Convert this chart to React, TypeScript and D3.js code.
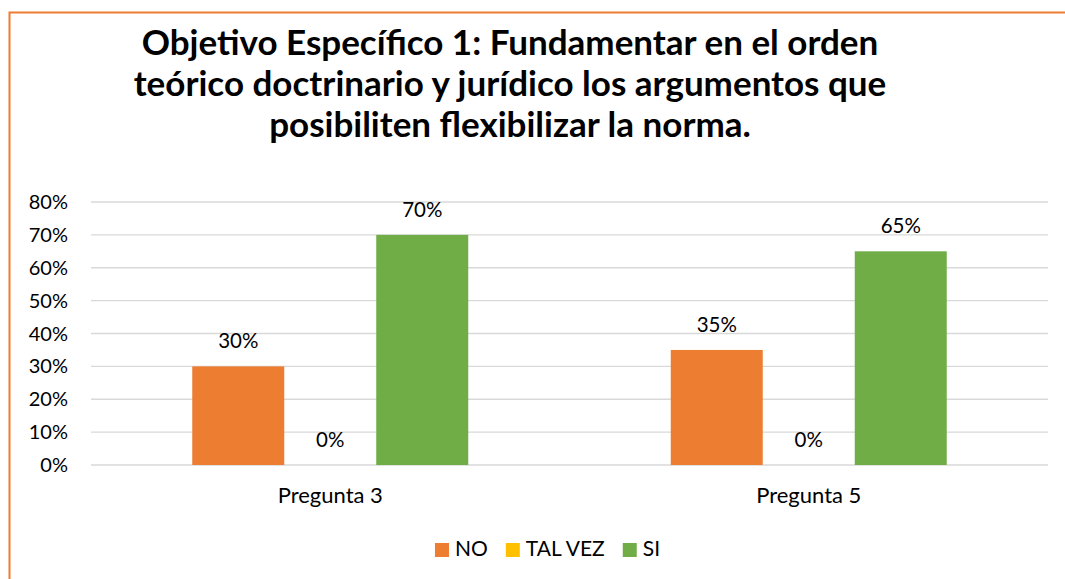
import React, { useRef, useEffect } from 'react';
import * as d3 from 'd3';

const categories = ['Pregunta 3', 'Pregunta 5'];
const seriesNames = ['NO', 'TAL VEZ', 'SI'];
const seriesColors = ['#ED7D31', '#FFC000', '#70AD47'];
const noValues = [0.30, 0.35];
const talVezValues = [0, 0];
const siValues = [0.70, 0.65];
const yTicks = [0, 0.1, 0.2, 0.3, 0.4, 0.5, 0.6, 0.7, 0.8];
const titleLines = [
  'Objetivo Específico 1: Fundamentar en el orden',
  'teórico doctrinario y jurídico los argumentos que',
  'posibiliten flexibilizar la norma.',
];

const FONT = 'Lato, "Open Sans", sans-serif';

const App = () => {
  const svgRef = useRef<SVGSVGElement>(null);

  useEffect(() => {
    if (!svgRef.current) return;
    const width = 1065;
    const height = 579;
    const svg = d3.select(svgRef.current);
    svg.selectAll('*').remove();

    svg.append('rect').attr('width', width).attr('height', height).attr('fill', '#fff');

    // orange frame (runs off right and bottom edge)
    svg.append('rect')
      .attr('x', 9.5).attr('y', 12.5)
      .attr('width', width + 20).attr('height', height + 20)
      .attr('fill', 'none').attr('stroke', '#ED7D31').attr('stroke-width', 2);

    // Title
    const title = svg.append('text')
      .attr('text-anchor', 'middle')
      .attr('font-family', FONT)
      .attr('font-weight', 'bold')
      .attr('font-size', 35)
      .attr('fill', '#000');
    titleLines.forEach((t, i) => {
      title.append('tspan').attr('x', 510).attr('y', 55 + i * 41).text(t);
    });

    const margin = { left: 91, right: 1048, top: 202, bottom: 465 };

    const y = d3.scaleLinear().domain([0, 0.8]).range([margin.bottom, margin.top]);
    const x0 = d3.scaleBand<string>().domain(categories).range([margin.left, margin.right]);
    const groupRatio = 276 / 478.5;

    // gridlines
    svg.append('g')
      .selectAll('line')
      .data(yTicks)
      .enter()
      .append('line')
      .attr('x1', margin.left).attr('x2', margin.right)
      .attr('y1', d => y(d)).attr('y2', d => y(d))
      .attr('stroke', '#d9d9d9').attr('stroke-width', 1.3);

    // y labels
    svg.append('g')
      .selectAll('text')
      .data(yTicks)
      .enter()
      .append('text')
      .attr('x', 68)
      .attr('y', d => y(d) + 7)
      .attr('text-anchor', 'end')
      .attr('font-family', FONT)
      .attr('font-size', 20)
      .attr('fill', '#000')
      .text(d => d3.format('.0%')(d));

    const seriesValues = [noValues, talVezValues, siValues];

    categories.forEach((cat, ci) => {
      const center = (x0(cat) ?? 0) + x0.bandwidth() / 2;
      const gw = x0.bandwidth() * groupRatio;
      const x1 = d3.scaleBand<string>().domain(seriesNames).range([center - gw / 2, center + gw / 2]);
      const g = svg.append('g');
      seriesNames.forEach((s, si) => {
        const v = seriesValues[si][ci];
        g.append('rect')
          .attr('x', x1(s) ?? 0)
          .attr('y', y(v))
          .attr('width', x1.bandwidth())
          .attr('height', y(0) - y(v))
          .attr('fill', seriesColors[si]);
        g.append('text')
          .attr('x', (x1(s) ?? 0) + x1.bandwidth() / 2)
          .attr('y', y(v) - 18)
          .attr('text-anchor', 'middle')
          .attr('font-family', FONT)
          .attr('font-size', 20.5)
          .attr('fill', '#000')
          .text(d3.format('.0%')(v));
      });
      svg.append('text')
        .attr('x', center)
        .attr('y', 503)
        .attr('text-anchor', 'middle')
        .attr('font-family', FONT)
        .attr('font-size', 22)
        .attr('fill', '#000')
        .text(cat);
    });

    // Legend
    const legend = svg.append('g');
    const items: { g: any; w: number }[] = [];
    seriesNames.forEach((s, i) => {
      const g = legend.append('g');
      g.append('rect').attr('x', 0).attr('y', -13).attr('width', 14).attr('height', 14).attr('fill', seriesColors[i]);
      const t = g.append('text')
        .attr('x', 20)
        .attr('y', 0)
        .attr('font-family', FONT)
        .attr('font-size', 21)
        .attr('fill', '#000')
        .text(s);
      const tw = (t.node() as SVGTextElement).getComputedTextLength();
      items.push({ g, w: 20 + tw });
    });
    const gap = 18;
    const total = d3.sum(items, d => d.w) + gap * (items.length - 1);
    let cx = 547.5 - total / 2;
    items.forEach(it => {
      it.g.attr('transform', `translate(${cx},556)`);
      cx += it.w + gap;
    });
  }, []);

  return (
    <div style={{ position: 'absolute', left: 0, top: 0 }}>
      <svg ref={svgRef} width={1065} height={579} style={{ display: 'block' }} />
    </div>
  );
};

export default App;
